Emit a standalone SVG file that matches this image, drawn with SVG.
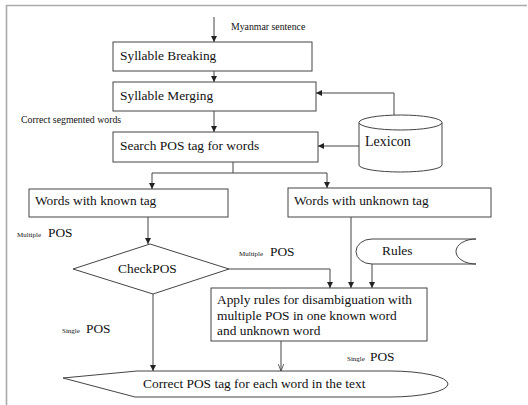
<svg xmlns="http://www.w3.org/2000/svg" width="528" height="405" viewBox="0 0 528 405" font-family="'Liberation Serif','Times New Roman',serif">
<style>
text{font-family:"Liberation Serif","Times New Roman",serif;fill:#111}
.t{font-size:13.4px}
.s{font-size:9.8px}
.xs{font-size:7px}
.box{fill:#fff;stroke:#444;stroke-width:1}
.ln{fill:none;stroke:#444;stroke-width:1}
</style>
<defs>
<marker id="ah" viewBox="0 0 8 8" refX="8" refY="4" markerWidth="6" markerHeight="6" orient="auto" markerUnits="userSpaceOnUse">
<path d="M0,0 L8,4 L0,8 Z" fill="#222"/>
</marker>
<marker id="av" viewBox="0 0 10 8" refX="10" refY="4" markerWidth="7" markerHeight="6" orient="auto" markerUnits="userSpaceOnUse">
<path d="M0,0 L10,4 L0,8" fill="none" stroke="#444" stroke-width="1.2"/>
</marker>
</defs>
<rect width="528" height="405" fill="#fff"/>
<path d="M6.5,405 L6.5,5.5 L527,5.5" fill="none" stroke="#aaa" stroke-width="1.6"/>

<g id="connectors">
<line class="ln" x1="214" y1="17" x2="214" y2="42" marker-end="url(#ah)"/>
<line class="ln" x1="214" y1="71" x2="214" y2="82" marker-end="url(#ah)"/>
<line class="ln" x1="214" y1="111" x2="214" y2="132" marker-end="url(#ah)"/>
<polyline class="ln" points="394,115 394,93 316,93" marker-end="url(#ah)"/>
<line class="ln" x1="359" y1="146" x2="318" y2="146" marker-end="url(#ah)"/>
<line class="ln" x1="233" y1="162" x2="233" y2="173"/>
<line class="ln" x1="152" y1="173" x2="327" y2="173"/>
<line class="ln" x1="152" y1="173" x2="152" y2="189" marker-end="url(#ah)"/>
<line class="ln" x1="327" y1="173" x2="327" y2="188" marker-end="url(#ah)"/>
<line class="ln" x1="148" y1="217" x2="148" y2="244" marker-end="url(#ah)"/>
<polyline class="ln" points="229,269 330,269 330,288" marker-end="url(#ah)"/>
<line class="ln" x1="351" y1="217" x2="351" y2="288" marker-end="url(#ah)"/>
<line class="ln" x1="372" y1="264" x2="372" y2="288" marker-end="url(#ah)"/>
<line class="ln" x1="153" y1="294" x2="153" y2="371" marker-end="url(#ah)"/>
<line class="ln" x1="281" y1="341" x2="281" y2="371" marker-end="url(#av)"/>
</g>

<g id="label-myanmar"><text class="s" x="231" y="30">Myanmar sentence</text></g>
<g id="label-segmented"><text class="s" x="21" y="123">Correct segmented words</text></g>
<g id="label-multiple-left"><text x="17" y="237"><tspan class="xs">Multiple</tspan><tspan class="t" x="48">POS</tspan></text></g>
<g id="label-multiple-mid"><text x="239" y="256"><tspan class="xs">Multiple</tspan><tspan class="t" x="270">POS</tspan></text></g>
<g id="label-single-left"><text x="62" y="333"><tspan class="xs">Single</tspan><tspan class="t" x="86">POS</tspan></text></g>
<g id="label-single-right"><text x="347" y="361"><tspan class="xs">Single</tspan><tspan class="t" x="370">POS</tspan></text></g>

<g id="syllable-breaking">
<rect class="box" x="113" y="42" width="199" height="29"/>
<text class="t" x="120" y="60">Syllable Breaking</text>
</g>
<g id="syllable-merging">
<rect class="box" x="113" y="82" width="203" height="29"/>
<text class="t" x="120" y="100">Syllable Merging</text>
</g>
<g id="search-pos">
<rect class="box" x="113" y="132" width="205" height="30"/>
<text class="t" x="120" y="150">Search POS tag for words</text>
</g>
<g id="lexicon">
<path class="box" d="M359,122.5 L359,165 A41.5,7 0 0 0 442,165 L442,122.5"/>
<ellipse class="box" cx="400.5" cy="122.5" rx="41.5" ry="7.5"/>
<text class="t" x="365" y="146" style="font-size:14px">Lexicon</text>
</g>
<g id="known-tag">
<rect class="box" x="29" y="189" width="199" height="28"/>
<text class="t" x="35" y="205">Words with known tag</text>
</g>
<g id="unknown-tag">
<rect class="box" x="288" y="188" width="203" height="29"/>
<text class="t" x="294" y="205">Words with unknown tag</text>
</g>
<g id="checkpos">
<polygon class="box" points="150,244 229,269 153,294 73,269"/>
<text class="t" x="118" y="273">CheckPOS</text>
</g>
<g id="rules">
<path class="ln" d="M372,239 L476,239 M372,264 L476,264 M372,239 A16,12.5 0 0 0 372,264 M476,239 A20,12.5 0 0 0 476,264"/>
<text class="t" x="382" y="255">Rules</text>
</g>
<g id="apply-rules">
<rect class="box" x="211" y="288" width="216" height="53"/>
<text class="t" x="217" y="304">Apply rules for disambiguation with</text>
<text class="t" x="217" y="320">multiple POS in one known word</text>
<text class="t" x="217" y="335">and unknown word</text>
</g>
<g id="correct-pos">
<path class="box" d="M137,371 L390,371 A58,13 0 0 1 390,397 L135,397 L63,378 Z"/>
<text class="t" x="143" y="388">Correct POS tag for each word in the text</text>
</g>
</svg>
